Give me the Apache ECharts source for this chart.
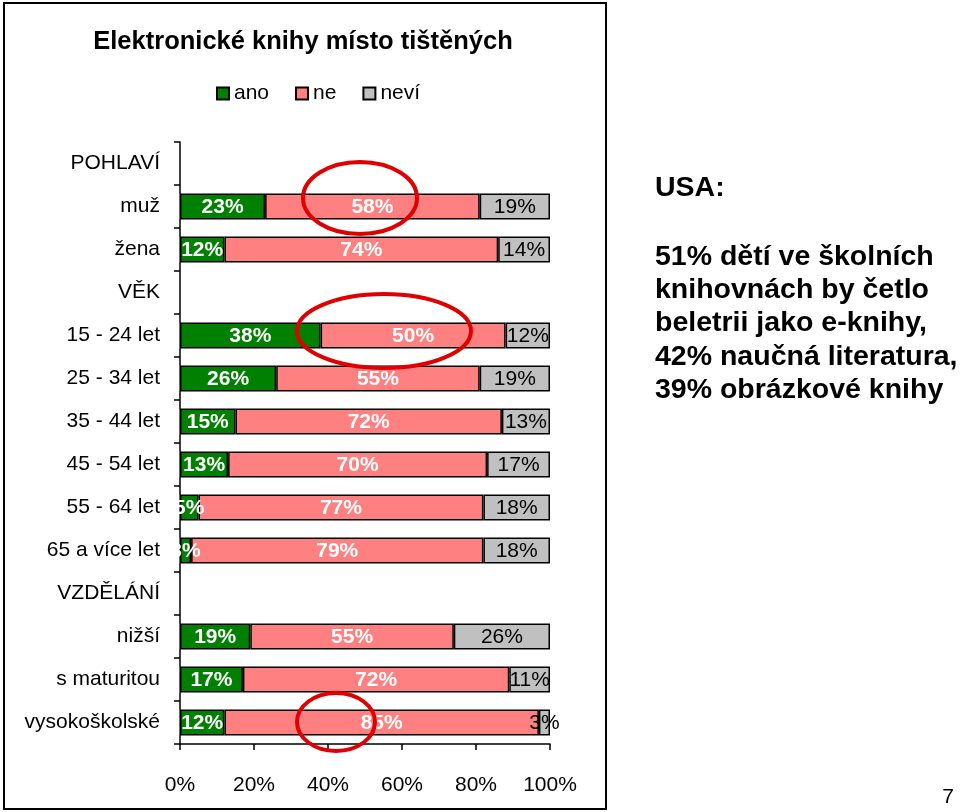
<!DOCTYPE html>
<html><head><meta charset="utf-8">
<script src="https://cdn.jsdelivr.net/npm/echarts@6/dist/echarts.min.js"></script>
<style>html,body{margin:0;padding:0;background:#fff;}#c{width:960px;height:812px;}</style>
</head><body><div id="c"></div>
<script>
const categories = ['POHLAVÍ','muž','žena','VĚK','15 - 24 let','25 - 34 let','35 - 44 let','45 - 54 let','55 - 64 let','65 a více let','VZDĚLÁNÍ','nižší','s maturitou','vysokoškolské'];
const ano  = [null,23,12,null,38,26,15,13,5,3,null,19,17,12];
const ne   = [null,58,74,null,50,55,72,70,77,79,null,55,72,85];
const nevi = [null,19,14,null,12,19,13,17,18,18,null,26,11,3];
const xTicks = [0,20,40,60,80,100];
const seriesNames = ['ano','ne','neví'];
const colors = ['#008000','#ff8080','#c0c0c0'];
const usaLines = ['51% dětí ve školních','knihovnách by četlo','beletrii jako e-knihy,','42% naučná literatura,','39% obrázkové knihy'];

const FONT = '"Liberation Sans", Arial, sans-serif';
const chart = echarts.init(document.getElementById('c'));

function mk(name, data, color, labelColor, weight){
  return {
    name, type:'bar', stack:'t', data, barWidth:26,
    itemStyle:{color, borderColor:'#000', borderWidth:1.5},
    label:{show:true, position:'inside', formatter:p=>p.value+'%', color:labelColor,
      fontSize:21, fontWeight:weight, fontFamily:FONT, offset:[0,1]},
    emphasis:{disabled:true}
  };
}

const graphics = [
  {type:'rect', shape:{x:4,y:3,width:602,height:806}, style:{fill:'none',stroke:'#000',lineWidth:2}, z:100},
  {type:'text', x:303, y:42, style:{text:'Elektronické knihy místo tištěných', font:'bold 25.5px '+FONT, fill:'#000', align:'center', verticalAlign:'middle'}},
  {type:'text', x:655, y:188, style:{text:'USA:', font:'bold 28.5px '+FONT, fill:'#000', align:'left', verticalAlign:'middle'}},
  {type:'text', x:948, y:797, style:{text:'7', font:'21px '+FONT, fill:'#000', align:'center', verticalAlign:'middle'}},
];
usaLines.forEach((t,i)=>graphics.push({type:'text', x:655, y:257+i*33.3, style:{text:t, font:'bold 28.5px '+FONT, fill:'#000', align:'left', verticalAlign:'middle'}}));

chart.setOption({
  animation:false,
  backgroundColor:'#fff',
  textStyle:{fontFamily:FONT},
  color:colors,
  legend:{left:211, top:78, itemWidth:12, itemHeight:12, itemGap:26, icon:'rect',
    data:seriesNames, textStyle:{fontSize:21, color:'#000', fontFamily:FONT}, selectedMode:false},
  grid:{left:180, right:410, top:142, bottom:68, containLabel:false},
  xAxis:{type:'value', min:0, max:100, interval:20,
    axisLine:{show:true, lineStyle:{color:'#000', width:1.5}},
    axisTick:{show:true, length:6, lineStyle:{color:'#000', width:1.5}},
    splitLine:{show:false},
    axisLabel:{formatter:v=>v+'%', fontSize:21, color:'#000', margin:31, fontFamily:FONT}},
  yAxis:{type:'category', data:categories, inverse:true,
    axisLine:{show:true, lineStyle:{color:'#000', width:1.5}},
    axisTick:{show:true, length:6, lineStyle:{color:'#000', width:1.5}},
    axisLabel:{fontSize:21, color:'#000', margin:20, fontFamily:FONT}},
  series:[mk('ano',ano,colors[0],'#fff','bold'), mk('ne',ne,colors[1],'#fff','bold'), mk('neví',nevi,colors[2],'#000','normal')],
  graphic:graphics
});

// clip bar labels at the axis (white masks left of the plot, per bar row) + annotation ellipses
const extra = graphics.slice();
categories.forEach((c,i)=>{
  if (ano[i]==null) return;
  const y = chart.convertToPixel({yAxisIndex:0}, c);
  extra.push({type:'rect', shape:{x:162,y:y-13,width:17.2,height:26}, style:{fill:'#fff'}, z:90});
});
const ellipses = [[360,198,57,36],[384,331,87,37],[336,722,39,29]];
ellipses.forEach(e=>extra.push({type:'ellipse', shape:{cx:e[0],cy:e[1],rx:e[2],ry:e[3]}, style:{fill:'none',stroke:'#e00000',lineWidth:4}, z:95}));
chart.setOption({graphic:extra}, {replaceMerge:['graphic']});
</script></body></html>
